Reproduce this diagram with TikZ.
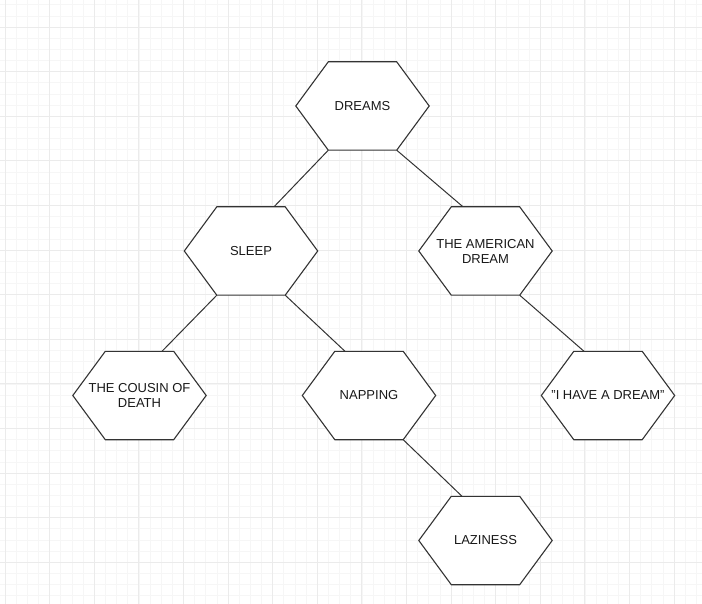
\documentclass[tikz,border=0pt]{standalone}
\usepackage{fontspec}
\setmainfont{Liberation Sans}
\usetikzlibrary{calc,backgrounds}
\definecolor{gridminor}{HTML}{F6F6F6}
\definecolor{gridmajor}{HTML}{EBEBEB}
\definecolor{edgecol}{HTML}{333333}
\tikzset{
  hexbox/.style={rectangle, minimum width=133pt, minimum height=88pt, inner sep=0pt,
    align=center, font=\fontsize{13}{15}\selectfont, text=black!90},
  hexline/.style={draw=edgecol, fill=white, line width=1.1pt, line join=miter},
  link/.style={draw=edgecol, line width=1pt},
}
\begin{document}
\begin{tikzpicture}[x=1pt,y=-1pt]
\useasboundingbox (0,0) rectangle (702,604);
% nodes
\node[hexbox] (dreams)  at (362.5,106)   {DREAMS};
\node[hexbox] (sleep)   at (251,251)     {SLEEP};
\node[hexbox] (amer)    at (485.5,251)   {THE AMERICAN\\DREAM};
\node[hexbox] (cousin)  at (139.5,395.5) {THE COUSIN OF\\DEATH};
\node[hexbox] (napping) at (369,395.5)   {NAPPING};
\node[hexbox] (ihad)    at (608,395.5)   {\char34 I HAVE A DREAM\char34};
\node[hexbox] (lazy)    at (485.5,540.5) {LAZINESS};
\begin{scope}[on background layer]
  \fill[white] (0,0) rectangle (702,604);
  \foreach \i in {0,...,62} {\draw[gridminor, line width=0.6pt] ({5+11.15*\i},0) -- ({5+11.15*\i},604);}
  \foreach \j in {-2,...,51} {\draw[gridminor, line width=0.6pt] (0,{27+11.15*\j}) -- (702,{27+11.15*\j});}
  \foreach \i in {0,...,15} {\draw[gridmajor, line width=0.8pt] ({5+44.6*\i},0) -- ({5+44.6*\i},604);}
  \foreach \j in {0,...,12} {\draw[gridmajor, line width=0.8pt] (0,{27+44.6*\j}) -- (702,{27+44.6*\j});}
  % connectors
  \draw[link] ($(dreams.south west)+(32.5,0)$) -- ($(sleep.north)+(23,0)$);
  \draw[link] ($(dreams.south east)+(-32.5,0)$) -- ($(amer.north)+(-22.5,0)$);
  \draw[link] ($(sleep.south west)+(32.5,0)$) -- ($(cousin.north)+(22.5,0)$);
  \draw[link] ($(sleep.south east)+(-32.5,0)$) -- ($(napping.north)+(-24,0)$);
  \draw[link] ($(amer.south east)+(-32.5,0)$) -- ($(ihad.north)+(-24,0)$);
  \draw[link] ($(napping.south east)+(-32.5,0)$) -- ($(lazy.north)+(-23.5,0)$);
  % hexagons
  \foreach \n in {dreams,sleep,amer,cousin,napping,ihad,lazy} {
    \draw[hexline] (\n.west) -- ($(\n.north west)+(32.5,0)$) -- ($(\n.north east)+(-32.5,0)$)
      -- (\n.east) -- ($(\n.south east)+(-32.5,0)$) -- ($(\n.south west)+(32.5,0)$) -- cycle;
  }
\end{scope}
\end{tikzpicture}
\end{document}
